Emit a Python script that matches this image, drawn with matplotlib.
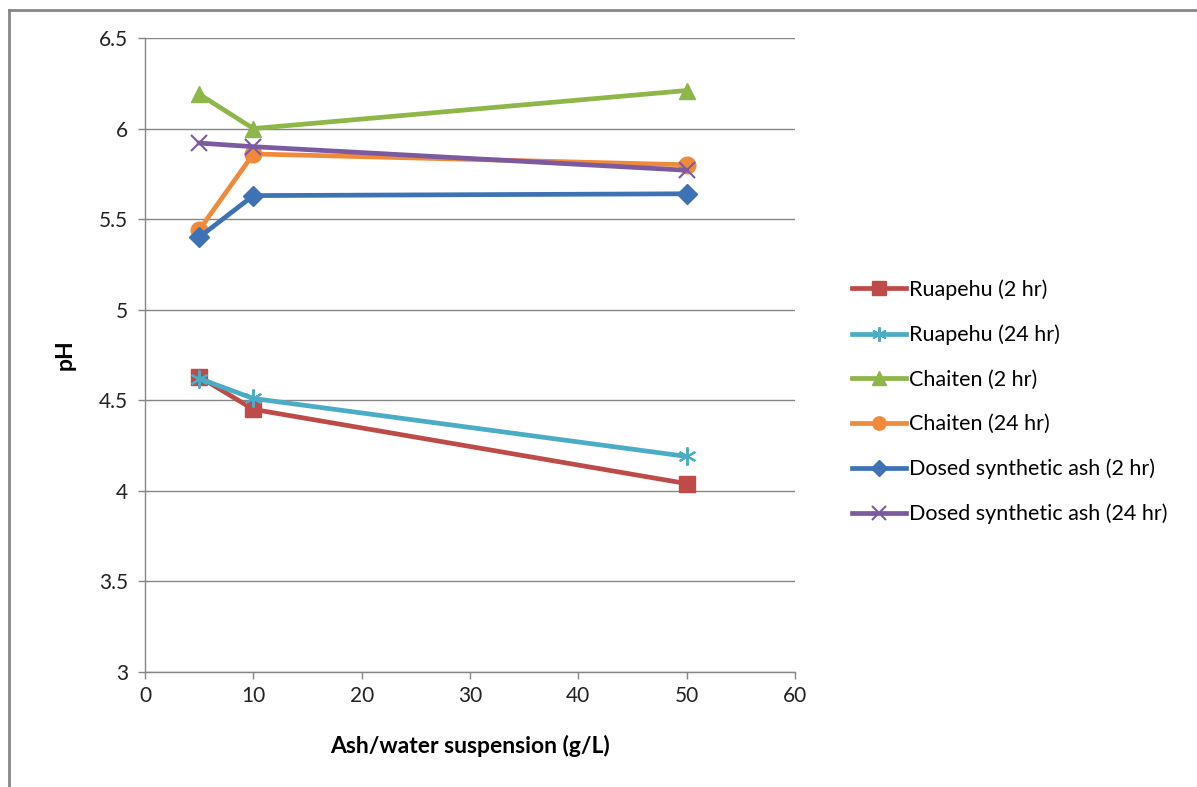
import matplotlib
matplotlib.use("Agg")
import matplotlib.pyplot as plt
from matplotlib.lines import Line2D

plt.rcParams['font.family'] = ['Lato', 'DejaVu Sans']

# Ash/water suspension concentrations (g/L)
concentration = [5, 10, 50]

# pH readings per ash type and leaching time
ruapehu_2hr = [4.63, 4.45, 4.04]
ruapehu_24hr = [4.62, 4.51, 4.19]
chaiten_2hr = [6.19, 6.00, 6.21]
chaiten_24hr = [5.44, 5.86, 5.80]
dosed_2hr = [5.40, 5.63, 5.64]
dosed_24hr = [5.92, 5.90, 5.77]

series_names = [
    "Ruapehu (2 hr)",
    "Ruapehu (24 hr)",
    "Chaiten (2 hr)",
    "Chaiten (24 hr)",
    "Dosed synthetic ash (2 hr)",
    "Dosed synthetic ash (24 hr)",
]
series_values = [ruapehu_2hr, ruapehu_24hr, chaiten_2hr, chaiten_24hr, dosed_2hr, dosed_24hr]

x_ticks = [0, 10, 20, 30, 40, 50, 60]
y_ticks = [3, 3.5, 4, 4.5, 5, 5.5, 6, 6.5]
y_tick_labels = ["3", "3.5", "4", "4.5", "5", "5.5", "6", "6.5"]

colors = ["#BE4B48", "#4BACC6", "#8EB648", "#F08A3A", "#3D73B5", "#7B5AA0"]
markers = ["s", (6, 2, 0), "^", "o", "D", "x"]
msizes = [12, 13, 12, 12, 10, 12]
mews = [1, 1.5, 1, 1, 1, 1.5]

fig = plt.figure(figsize=(11.97, 7.87), dpi=100)
ax = fig.add_axes([145 / 1197, 1 - 672 / 787, 650 / 1197, 634 / 787])

for name, vals, c, m, ms, mew in zip(series_names, series_values, colors, markers, msizes, mews):
    ax.plot(concentration, vals, color=c, lw=3.4, marker=m, markersize=ms,
            markeredgewidth=mew,
            markeredgecolor=c, markerfacecolor=c, label=name, zorder=3,
            solid_joinstyle="round")

ax.set_xlim(0, 60)
ax.set_ylim(3, 6.5)
ax.set_xticks(x_ticks)
ax.set_yticks(y_ticks)
ax.set_yticklabels(y_tick_labels)
ax.tick_params(axis="both", labelsize=15, colors="#868686", labelcolor="#222222",
               length=5, width=1, direction="out")
ax.tick_params(axis="x", pad=5)
ax.tick_params(axis="y", pad=7)

ax.grid(axis="y", color="#868686", lw=1)
ax.set_axisbelow(True)
for side in ("top", "right"):
    ax.spines[side].set_visible(False)
for side in ("left", "bottom"):
    ax.spines[side].set_color("#868686")
    ax.spines[side].set_linewidth(1)

ax.set_xlabel("Ash/water suspension (g/L)", fontsize=16.5, fontweight="bold", labelpad=21)
ax.set_ylabel("pH", fontsize=16.5, fontweight="bold", labelpad=17)

handles, labels = ax.get_legend_handles_labels()
leg = fig.legend(handles, labels, loc="upper left", bbox_to_anchor=(833 / 1197, 1 - 260 / 787),
                 frameon=False, fontsize=15.5, handlelength=2.5, handletextpad=0.15,
                 labelspacing=1.14, markerscale=0.8)

# outer chart frame
fig.add_artist(Line2D([9 / 1197, 1], [1 - 10 / 787, 1 - 10 / 787], transform=fig.transFigure,
                      color="#868686", lw=2))
fig.add_artist(Line2D([9 / 1197, 9 / 1197], [0, 1 - 10 / 787], transform=fig.transFigure,
                      color="#868686", lw=2))

fig.savefig("out.png", dpi=100)
